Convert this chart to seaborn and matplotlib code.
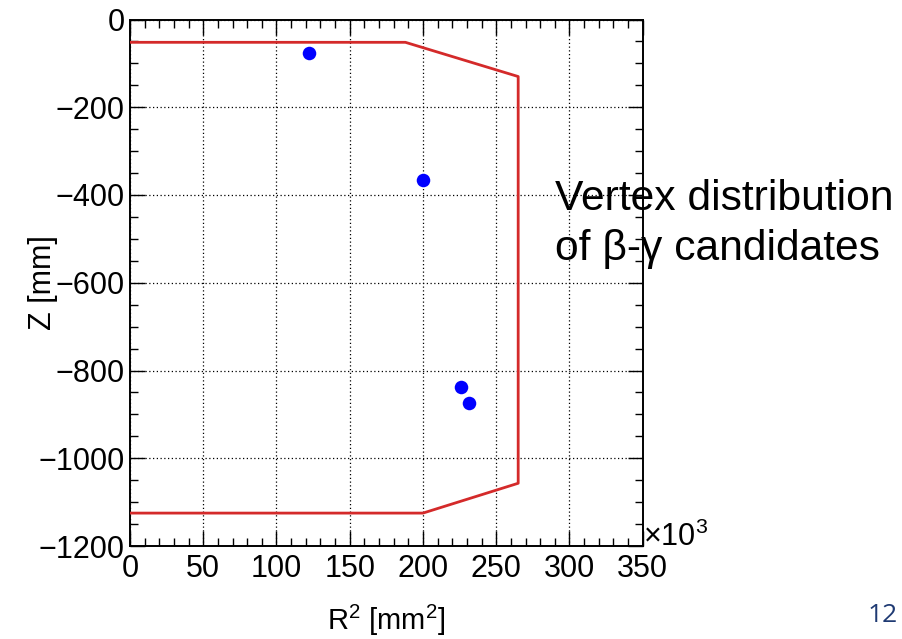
import matplotlib
matplotlib.use("Agg")
import matplotlib.pyplot as plt
import seaborn as sns
import pandas as pd
from matplotlib.ticker import MultipleLocator

# Data (R^2 in units of 10^3 mm^2, Z in mm)
outline_r2 = [0, 188, 265, 265, 200, 0]
outline_z = [-52, -52, -130, -1057, -1125, -1125]
vertex_r2 = [122.5, 200, 226, 231.5]
vertex_z = [-77, -366, -838, -875]

x_ticks = [0, 50, 100, 150, 200, 250, 300, 350]
y_ticks = [0, -200, -400, -600, -800, -1000, -1200]

sns.set_theme(style="white")
plt.rcParams['font.family'] = ['Liberation Sans', 'DejaVu Sans']
plt.rcParams['mathtext.fontset'] = 'custom'
plt.rcParams['mathtext.rm'] = 'Liberation Sans'
plt.rcParams['mathtext.it'] = 'Liberation Sans:italic'
plt.rcParams['mathtext.bf'] = 'Liberation Sans:bold'
plt.rcParams['text.color'] = 'black'
plt.rcParams['axes.labelcolor'] = 'black'
plt.rcParams['xtick.color'] = 'black'
plt.rcParams['ytick.color'] = 'black'

fig = plt.figure(figsize=(9.02, 6.39), dpi=100)
ax = fig.add_axes([130/902, 1-546/639, (642.7-130)/902, (546-19.5)/639])

outline = pd.DataFrame({"r2": outline_r2, "z": outline_z})
verts = pd.DataFrame({"r2": vertex_r2, "z": vertex_z})

sns.lineplot(data=outline, x="r2", y="z", sort=False, estimator=None,
             color="#d42a2a", linewidth=2.0, ax=ax, zorder=3)
sns.scatterplot(data=verts, x="r2", y="z", color="#0000ff", s=95,
                edgecolor="#0000ff", linewidth=0, ax=ax, zorder=4)

ax.set_xlim(0, 350)
ax.set_ylim(-1200, 0)
ax.set_xticks(x_ticks)
ax.set_yticks(y_ticks)
ax.xaxis.set_minor_locator(MultipleLocator(10))
ax.yaxis.set_minor_locator(MultipleLocator(50))

ax.tick_params(which="both", direction="in", top=True, right=True,
               bottom=True, left=True, color="black", width=1.0,
               labelcolor="black")
ax.tick_params(which="major", length=11, labelsize=22, pad=4)
ax.tick_params(which="minor", length=5.5)
ax.tick_params(axis="x", which="major", pad=6)

ax.grid(True, which="major", linestyle=(0, (1, 2)), color="black", linewidth=0.9)
for s in ax.spines.values():
    s.set_color("black")
    s.set_linewidth(1.4)
    s.set_visible(True)

ax.set_xlabel(r"R$^{\mathrm{2}}$ [mm$^{\mathrm{2}}$]", fontsize=21, color="black")
ax.set_ylabel("Z [mm]", fontsize=22, color="black")
ax.xaxis.set_label_coords(0.50, -0.108)
ax.yaxis.set_label_coords(-0.14, 0.50)

ax.text(1.0, -0.014, r"$\mathrm{\times 10^{3}}$", transform=ax.transAxes, fontsize=22,
        ha="left", va="bottom", color="black")

fig.text(555/902, 1-224/639, "Vertex distribution\nof β-γ candidates",
         fontsize=30.7, ha="left", va="center", linespacing=1.33, color="black")
fig.text(898/902, 1-615/639, "12", fontsize=19, family="Open Sans",
         color="#1f3a73", ha="right", va="center")

fig.savefig("out.png", dpi=100)
